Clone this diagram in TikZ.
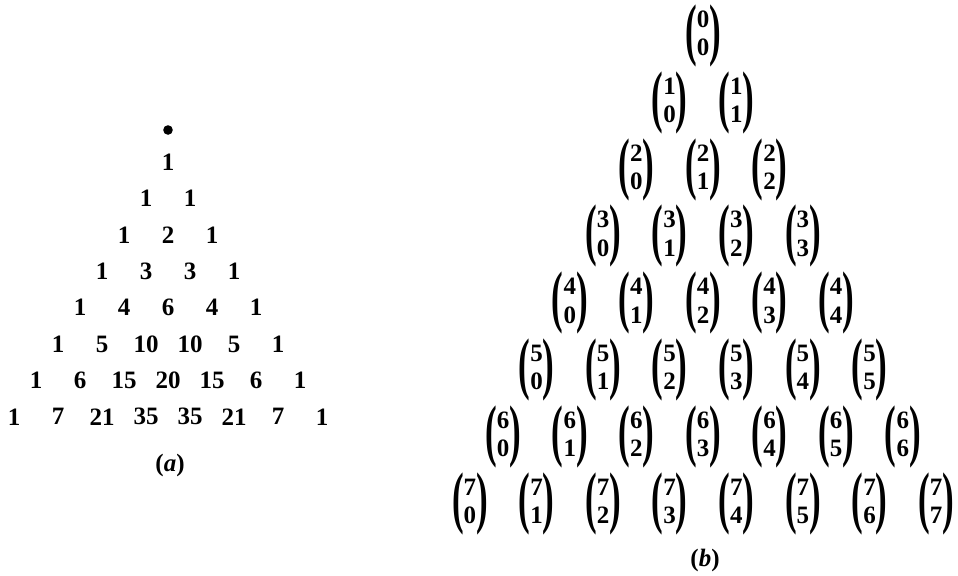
\documentclass[tikz,border=0pt]{standalone}
\usepackage{graphicx}
\usepackage{fontspec}
\setmainfont{Liberation Serif}

% binomial coefficient with tall, heavy round brackets
\newcommand{\bincoef}[2]{$\vcenter{\hbox{\scalebox{1.4}[2.75]{(}}}%
  \vcenter{\hbox{\def\arraystretch{0.95}\begin{tabular}{@{}c@{}}#1\\#2\end{tabular}}}%
  \vcenter{\hbox{\scalebox{1.4}[2.75]{)}}}$}

\begin{document}
\begin{tikzpicture}[x=0.5pt, y=-0.5pt, font=\fontsize{12.5}{15}\selectfont\bfseries,
  every node/.style={inner sep=1pt}]
  \useasboundingbox (0,0) rectangle (958,575);

  % (a) the numbers, one row per line
  \node[circle, fill, inner sep=0pt, minimum size=4.8pt] (dot) at (168,130) {};
  \foreach \n/\row in {0/{1}, 1/{1,1}, 2/{1,2,1}, 3/{1,3,3,1}, 4/{1,4,6,4,1},
                       5/{1,5,10,10,5,1}, 6/{1,6,15,20,15,6,1}, 7/{1,7,21,35,35,21,7,1}} {
    \foreach \c [count=\k from 0] in \row {
      \node (p-\n-\k) at ({168+(2*\k-\n)*22}, {162+\n*36.4}) {\c};
    }
  }
  \node (lab-a) at (170,465) {(\textit{a})};

  % (b) the same triangle written as binomial coefficients
  \foreach \n in {0,...,7} {
    \foreach \k in {0,...,\n} {
      \node (b-\n-\k) at ({703+(2*\k-\n)*33.3}, {36+\n*66.8}) {\bincoef{\n}{\k}};
    }
  }
  \node (lab-b) at (705,560) {(\textit{b})};
\end{tikzpicture}
\end{document}
